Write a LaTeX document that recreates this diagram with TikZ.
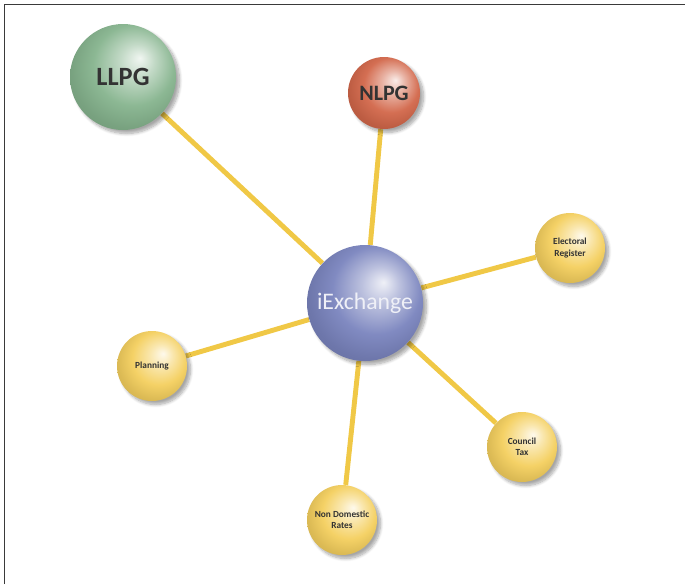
\documentclass[tikz,border=0pt]{standalone}
\usepackage{fontspec}
\setsansfont{Carlito}
\usetikzlibrary{backgrounds,shadows.blur}

\definecolor{llpggreen}{HTML}{86B48E}
\definecolor{nlpgred}{HTML}{D2674A}
\definecolor{hubblue}{HTML}{7A84BE}
\definecolor{appyellow}{HTML}{F4CF5E}
\definecolor{linkgold}{HTML}{F0C846}
\definecolor{framegray}{HTML}{3A3A3A}
\definecolor{labelgray}{HTML}{333333}

% ball shading with the highlight up and to the right
\colorlet{spherecol}{white}
\pgfdeclareradialshading[spherecol]{sphere}{\pgfpoint{8bp}{9bp}}{%
  color(0bp)=(spherecol!12!white); color(8bp)=(spherecol!50!white);
  color(19bp)=(spherecol!95!white); color(28bp)=(spherecol!90!black);
  color(50bp)=(spherecol!72!black)}

\begin{document}
\begin{tikzpicture}[
    spherecolor/.code={\colorlet{spherecol}{#1}},
    globe/.style={circle, inner sep=0pt, align=center, shading=sphere,
      spherecolor=#1, text=labelgray, font=\sffamily,
      blur shadow={shadow xshift=2pt, shadow yshift=-2pt,
        shadow blur steps=8, shadow opacity=35}},
    app/.style={globe=appyellow, minimum size=1.4cm,
      font=\sffamily\bfseries\fontsize{5.3}{6.4}\selectfont},
    link/.style={linkgold, line width=2.8pt}
  ]
  \useasboundingbox (0,0) rectangle (13.7,-11.68);
  \draw[framegray, line width=0.9pt] (0.09,-11.68) -- (0.09,-0.09) -- (13.7,-0.09);

  \node[globe=llpggreen, minimum size=2.12cm, font=\sffamily\bfseries\fontsize{15}{17}\selectfont] (llpg) at (2.46,-1.54) {LLPG};
  \node[globe=nlpgred, minimum size=1.44cm, font=\sffamily\bfseries\fontsize{12.5}{14}\selectfont] (nlpg) at (7.68,-1.86) {NLPG};
  \node[globe=hubblue, minimum size=2.32cm, text=white!88!hubblue, font=\sffamily\fontsize{13.5}{15}\selectfont] (hub) at (7.30,-6.06) {iExchange};
  \node[app] (elect) at (11.40,-4.96) {Electoral\\Register};
  \node[app] (plan) at (3.04,-7.32) {Planning};
  \node[app] (ctax) at (10.44,-8.94) {Council\\Tax};
  \node[app] (ndr) at (6.84,-10.40) {Non Domestic\\Rates};

  \begin{scope}[on background layer]
    \draw[link] (llpg) -- (hub);
    \draw[link] (nlpg) -- (hub);
    \draw[link] (elect) -- (hub);
    \draw[link] (plan) -- (hub);
    \draw[link] (ctax) -- (hub);
    \draw[link] (ndr) -- (hub);
  \end{scope}
\end{tikzpicture}
\end{document}
